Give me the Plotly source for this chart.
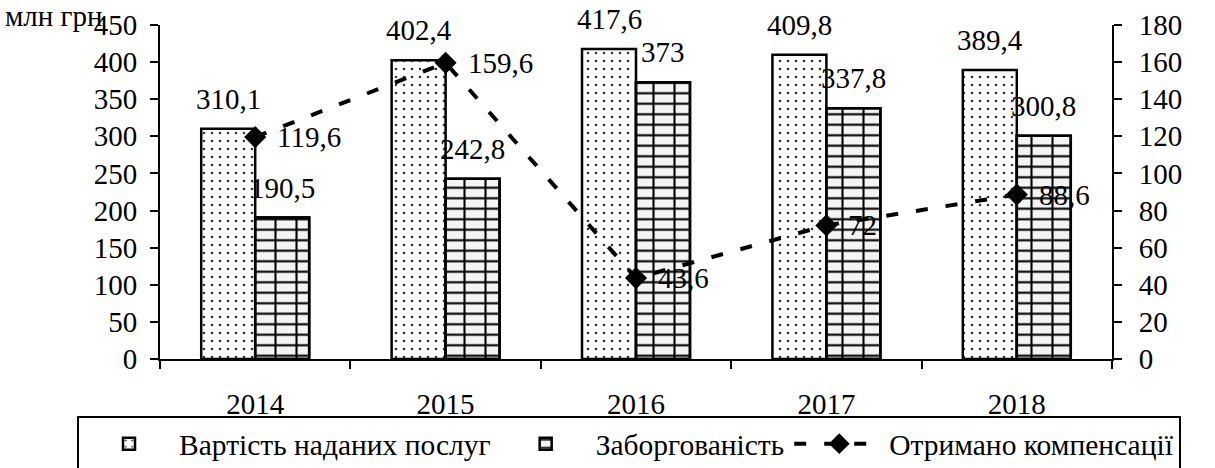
import plotly.graph_objects as go

years = ["2014", "2015", "2016", "2017", "2018"]
cost = [310.1, 402.4, 417.6, 409.8, 389.4]
debt = [190.5, 242.8, 373, 337.8, 300.8]
comp = [119.6, 159.6, 43.6, 72, 88.6]

name_cost = "Вартість наданих послуг"
name_debt = "Заборгованість"
name_comp = "Отримано компенсації"

FONT = "Liberation Serif, Times New Roman, serif"
FS = 29


def fmt(v):
    s = ("%g" % v)
    return s.replace(".", ",")


W, H = 1215, 468
ML, MR, MT, MB = 160, 103, 25, 109
PW = W - ML - MR
PH = H - MT - MB

fig = go.Figure()

fig.add_trace(go.Bar(
    x=years, y=cost, name=name_cost, offsetgroup="a",
    marker=dict(color="white", line=dict(color="black", width=2.5),
                pattern=dict(shape=".", size=8, solidity=0.08, fgcolor="#333333",
                             bgcolor="white", fillmode="replace")),
))
fig.add_trace(go.Bar(
    x=years, y=debt, name=name_debt, offsetgroup="b",
    marker=dict(color="white", line=dict(color="black", width=2.5),
                pattern=dict(shape="-", size=10.5, solidity=0.2, fgcolor="black",
                             bgcolor="#f4f4f4", fillmode="replace")),
))
fig.add_trace(go.Bar(
    x=years, y=debt, name=name_debt, offsetgroup="b", showlegend=False,
    marker=dict(color="rgba(0,0,0,0)", line=dict(color="black", width=2.5),
                pattern=dict(shape="|", size=21, solidity=0.1, fgcolor="black",
                             bgcolor="rgba(0,0,0,0)", fillmode="replace")),
))
fig.add_trace(go.Scatter(
    x=years, y=comp, name=name_comp, yaxis="y2", mode="lines+markers",
    line=dict(color="black", width=4, dash="12px,18px"),
    marker=dict(symbol="diamond", size=17, color="black"),
))

tf = dict(family=FONT, size=FS, color="black")
ann = []
for i, v in enumerate(cost):
    ann.append(dict(x=i, y=v, xref="x", yref="y", text=fmt(v), showarrow=False,
                    xshift=-27, yshift=30, font=tf))
for i, v in enumerate(debt):
    ann.append(dict(x=i, y=v, xref="x", yref="y", text=fmt(v), showarrow=False,
                    xshift=27, yshift=30, font=tf))
for i, v in enumerate(comp):
    ann.append(dict(x=i, y=v, xref="x", yref="y2", text=fmt(v), showarrow=False,
                    xanchor="left", yanchor="middle", xshift=20, font=tf))
ann.append(dict(x=-157 / PW, y=1 + 9 / PH, xref="paper", yref="paper", text="млн грн",
                showarrow=False, xanchor="left", yanchor="middle", font=tf))

axis_common = dict(showgrid=False, zeroline=False, linecolor="black", linewidth=2,
                   tickcolor="black", tickwidth=2, ticklen=8, tickfont=tf)

fig.update_layout(
    width=W, height=H,
    margin=dict(l=ML, r=MR, t=MT, b=MB, pad=0, autoexpand=False),
    paper_bgcolor="white", plot_bgcolor="white",
    barmode="group", bargap=0.433, bargroupgap=0,
    font=tf,
    xaxis=dict(type="category", range=[-0.5, 4.5], tickson="boundaries", ticks="outside",
               showline=True, ticklabelstandoff=18, **axis_common),
    xaxis2=dict(overlaying="x", anchor="y", range=[-0.5, 4.5], tickvals=[-0.5, 0.5, 1.5, 2.5, 3.5, 4.5],
                ticks="inside", showticklabels=False, showline=False, showgrid=False, zeroline=False,
                tickcolor="black", tickwidth=2, ticklen=8),
    yaxis=dict(range=[0, 450], dtick=50, ticks="outside", showline=True,
               ticklabelstandoff=7, **axis_common),
    yaxis2=dict(range=[0, 180], dtick=20, ticks="outside", showline=True, side="right",
                overlaying="y", ticklabelstandoff=11, **axis_common),
    yaxis3=dict(range=[0, 450], dtick=50, ticks="inside", overlaying="y", showline=False,
                showticklabels=False, showgrid=False, zeroline=False,
                tickcolor="black", tickwidth=2, ticklen=8),
    yaxis4=dict(range=[0, 180], dtick=20, ticks="inside", overlaying="y", side="right",
                showline=False, showticklabels=False, showgrid=False, zeroline=False,
                tickcolor="black", tickwidth=2, ticklen=8),
    legend=dict(orientation="h", x=(77 - ML) / PW, xanchor="left",
                y=(PH - (416 - MT)) / PH, yanchor="top",
                bordercolor="black", borderwidth=2, bgcolor="white", itemwidth=90,
                font=dict(family=FONT, size=29.5, color="black"), traceorder="normal"),
    annotations=ann,
    showlegend=True,
)

fig.write_html("out.html")
